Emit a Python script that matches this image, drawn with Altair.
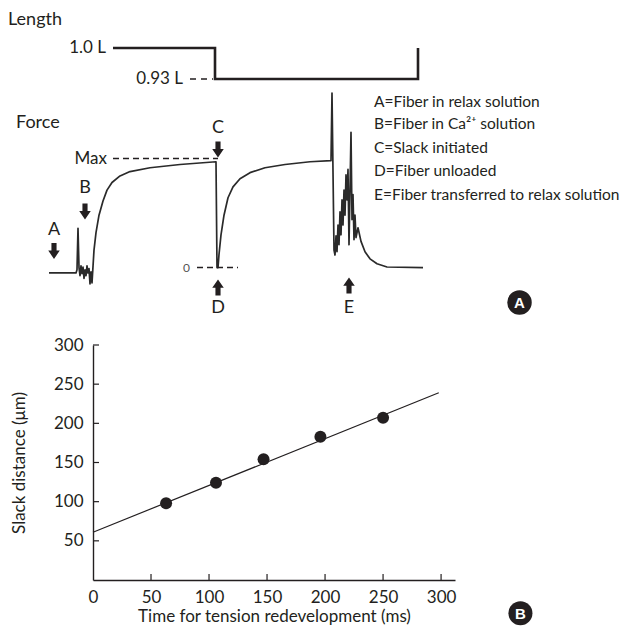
import altair as alt
import pandas as pd

FONT = "Lato"
INK = "#231f20"

# ---------------- Panel A data ----------------
# length trace (time in a.u., length in fiber lengths L)
len_t = [64, 166, 166, 369, 369]
len_L = [1.0, 1.0, 0.93, 0.93, 1.0]

# force trace (time in a.u., force in % of Max)
force_t = [0, 27, 28, 29, 30, 31, 32, 33, 34, 35, 36, 37, 38, 39, 40, 41, 42, 43,
           45, 47, 50, 54, 58, 63, 71, 81, 101, 131, 167,
           168, 169, 170, 172, 175, 179, 184, 191, 201, 216, 236, 261, 282,
           283, 285, 286, 287, 288, 289, 290, 291, 292, 293, 294, 295, 296, 297,
           298, 299, 300, 301, 302, 303, 304, 305, 306, 307,
           309, 312, 316, 321, 328, 338, 374]
force_F = [-4.9, -4.9, -2, 36, 0, -7.5, 1.5, -5.5, 0.5, -10, -2, -7.5, 1.5, -5, -1, -15, -4, -14,
           16, 32, 48, 61, 71, 78, 84, 88, 91.5, 94.5, 97,
           0, 0, 12, 30, 48, 64, 74, 81.5, 87, 91.5, 94.5, 97, 98,
           160, 16, 11.5, 29, 14.5, 39, 21, 51, 30, 62, 39, 71, 48, 85,
           62, 90, 21, 71, 124, 44, 67, 25.5, 48, 27.5,
           36.5, 24, 14.5, 8, 3.5, 0.5, 0]

# event markers
event_labels = ["A", "B", "C", "D", "E"]
event_t = [5, 36, 169, 169, 300]
event_label_F = [34.5, 73, 128, -37, -37]
event_arrow_F = [15.2, 51.4, 108.3, -18.2, -16.4]
event_dir = ["down", "down", "down", "up", "up"]

legend_lines = ["A=Fiber in relax solution",
                "B=Fiber in Ca²⁺ solution",
                "C=Slack initiated",
                "D=Fiber unloaded",
                "E=Fiber transferred to relax solution"]
legend_F = [152.1, 131.2, 109.6, 88.6, 66.6]

# ---------------- Panel B data ----------------
tension_time = [63, 106, 147, 196, 250]
slack_dist = [98, 124, 154, 183, 207]
fit_time = [0, 298]
fit_slack = [61, 239]
x_ticks = [0, 50, 100, 150, 200, 250, 300]
y_ticks = [50, 100, 150, 200, 250, 300]

# ---------------- Panel A chart ----------------
TW, TH = 527, 325
xT = alt.Scale(domain=[44, 571], nice=False, zero=False)
yF = alt.Scale(domain=[-60, 238], nice=False, zero=False)
yL = alt.Scale(domain=[0.35645, 1.09032], nice=False, zero=False)


def XT(field="t"):
    return alt.X(f"{field}:Q", scale=xT, axis=None)


def YF(field="F"):
    return alt.Y(f"{field}:Q", scale=yF, axis=None)


def YL(field="L"):
    return alt.Y(f"{field}:Q", scale=yL, axis=None)


len_df = pd.DataFrame({"t": len_t, "L": len_L, "i": range(len(len_t))})
force_df = pd.DataFrame({"t": force_t, "F": force_F, "i": range(len(force_t))})

length_line = alt.Chart(len_df).mark_line(color=INK, strokeWidth=2.6, strokeJoin="miter").encode(
    x=XT(), y=YL(), order="i:Q")
force_line = alt.Chart(force_df).mark_line(color="#2a2a2a", strokeWidth=1.7, strokeJoin="round").encode(
    x=XT(), y=YF(), order="i:Q")

dash_F = alt.Chart(pd.DataFrame({"t": [64, 148], "t2": [169, 189], "F": [100, 0]})).mark_rule(
    color=INK, strokeWidth=1.4, strokeDash=[6, 4]).encode(x=XT(), x2="t2:Q", y=YF())
dash_L = alt.Chart(pd.DataFrame({"t": [141], "t2": [164], "L": [0.93]})).mark_rule(
    color=INK, strokeWidth=1.4, strokeDash=[6, 5]).encode(x=XT(), x2="t2:Q", y=YL())

title_L = alt.Chart(pd.DataFrame({"t": [-41], "L": [1.0632], "s": ["Length"]})).mark_text(
    font=FONT, fontSize=18, align="left", baseline="middle", color=INK).encode(x=XT(), y=YL(), text="s:N")
lvl_L = alt.Chart(pd.DataFrame({"t": [57, 134], "L": [1.0, 0.93], "s": ["1.0 L", "0.93 L"]})).mark_text(
    font=FONT, fontSize=17, align="right", baseline="middle", color=INK).encode(x=XT(), y=YL(), text="s:N")

title_F = alt.Chart(pd.DataFrame({"t": [-33], "F": [132.6], "s": ["Force"]})).mark_text(
    font=FONT, fontSize=18, align="left", baseline="middle", color=INK).encode(x=XT(), y=YF(), text="s:N")
max_F = alt.Chart(pd.DataFrame({"t": [58], "F": [100], "s": ["Max"]})).mark_text(
    font=FONT, fontSize=17, align="right", baseline="middle", color=INK).encode(x=XT(), y=YF(), text="s:N")
zero_F = alt.Chart(pd.DataFrame({"t": [141], "F": [0], "s": ["0"]})).mark_text(
    font=FONT, fontSize=12, align="right", baseline="middle", color="#555555").encode(x=XT(), y=YF(), text="s:N")

ev_df = pd.DataFrame({"t": event_t, "F": event_label_F, "Fa": event_arrow_F,
                      "s": event_labels, "d": event_dir})
ev_text = alt.Chart(ev_df).mark_text(
    font=FONT, fontSize=18, align="center", baseline="middle", color=INK).encode(x=XT(), y=YF(), text="s:N")
DOWN = "M-0.32,-1L0.32,-1L0.32,-0.05L0.72,-0.05L0,1L-0.72,-0.05L-0.32,-0.05Z"
UP = "M-0.32,1L0.32,1L0.32,0.05L0.72,0.05L0,-1L-0.72,0.05L-0.32,0.05Z"
arrows = alt.Chart(ev_df).mark_point(filled=True, color=INK, opacity=1, size=256).encode(
    x=XT(), y=YF("Fa"),
    shape=alt.Shape("d:N", scale=alt.Scale(domain=["down", "up"], range=[DOWN, UP]), legend=None))

leg_df = pd.DataFrame({"t": [325] * 5, "F": legend_F, "s": legend_lines})
legend_text = alt.Chart(leg_df).mark_text(
    font=FONT, fontSize=15.5, align="left", baseline="middle", color=INK).encode(x=XT(), y=YF(), text="s:N")

badgeA_df = pd.DataFrame({"t": [470.5], "F": [-32], "s": ["A"]})
badgeA = alt.Chart(badgeA_df).mark_point(shape="circle", filled=True, size=600, color=INK, opacity=1).encode(
    x=XT(), y=YF())
badgeA_t = alt.Chart(badgeA_df).mark_text(font="Liberation Sans", fontWeight="bold", fontSize=15,
                                          color="white", align="center", baseline="middle", dy=1).encode(
    x=XT(), y=YF(), text="s:N")

top = alt.layer(length_line, force_line, dash_F, dash_L, title_L, lvl_L, title_F, max_F, zero_F,
                ev_text, arrows, legend_text, badgeA, badgeA_t).resolve_scale(y="independent").properties(
    width=TW, height=TH)

# ---------------- Panel B chart ----------------
BW, BH = 362, 235
xB = alt.Scale(domain=[0, 312], nice=False)
yB = alt.Scale(domain=[0, 300], nice=False)
ax_x = alt.Axis(values=x_ticks, ticks=False, tickSize=0, grid=False, labelFont=FONT, labelFontSize=17,
                labelColor=INK, labelPadding=9, domainColor=INK, domainWidth=1.4,
                title="Time for tension redevelopment (ms)", titleFont=FONT, titleFontSize=17,
                titleFontWeight="normal", titleColor=INK, titlePadding=3, labelFlush=False)
ax_y = alt.Axis(values=y_ticks, ticks=False, tickSize=0, grid=False, labelFont=FONT, labelFontSize=17,
                labelColor=INK, labelPadding=10, domainColor=INK, domainWidth=1.4,
                title="Slack distance (μm)", titleFont=FONT, titleFontSize=17,
                titleFontWeight="normal", titleColor=INK, titlePadding=25, labelFlush=False)


def XB():
    return alt.X("time:Q", scale=xB, axis=ax_x)


def YB():
    return alt.Y("slack:Q", scale=yB, axis=ax_y)


pts_df = pd.DataFrame({"time": tension_time, "slack": slack_dist})
fit_df = pd.DataFrame({"time": fit_time, "slack": fit_slack})
pts = alt.Chart(pts_df).mark_circle(size=144, color=INK, opacity=1).encode(x=XB(), y=YB())
fit = alt.Chart(fit_df).mark_line(color=INK, strokeWidth=1.2).encode(x=XB(), y=YB())
xt = alt.Chart(pd.DataFrame({"time": x_ticks[1:]})).mark_rule(color=INK, strokeWidth=1.2).encode(
    x=XB(), y=alt.value(BH), y2=alt.value(BH - 6))
yt = alt.Chart(pd.DataFrame({"slack": y_ticks})).mark_rule(color=INK, strokeWidth=1.2).encode(
    y=YB(), x=alt.value(0), x2=alt.value(6))
badgeB_df = pd.DataFrame({"time": [368.4], "slack": [-42.5], "s": ["B"]})
badgeB = alt.Chart(badgeB_df).mark_point(shape="circle", filled=True, size=576, color=INK, opacity=1).encode(
    x=XB(), y=YB())
badgeB_t = alt.Chart(badgeB_df).mark_text(font="Liberation Sans", fontWeight="bold", fontSize=15,
                                          color="white", align="center", baseline="middle", dy=1).encode(
    x=XB(), y=YB(), text="s:N")

bottom = alt.layer(fit, xt, yt, pts, badgeB, badgeB_t).properties(width=BW, height=BH)

chart = alt.vconcat(top, bottom, spacing=3).properties(padding=0).configure_view(stroke=None)

chart.save("out.html", embed_options={"renderer": "svg", "actions": False})
